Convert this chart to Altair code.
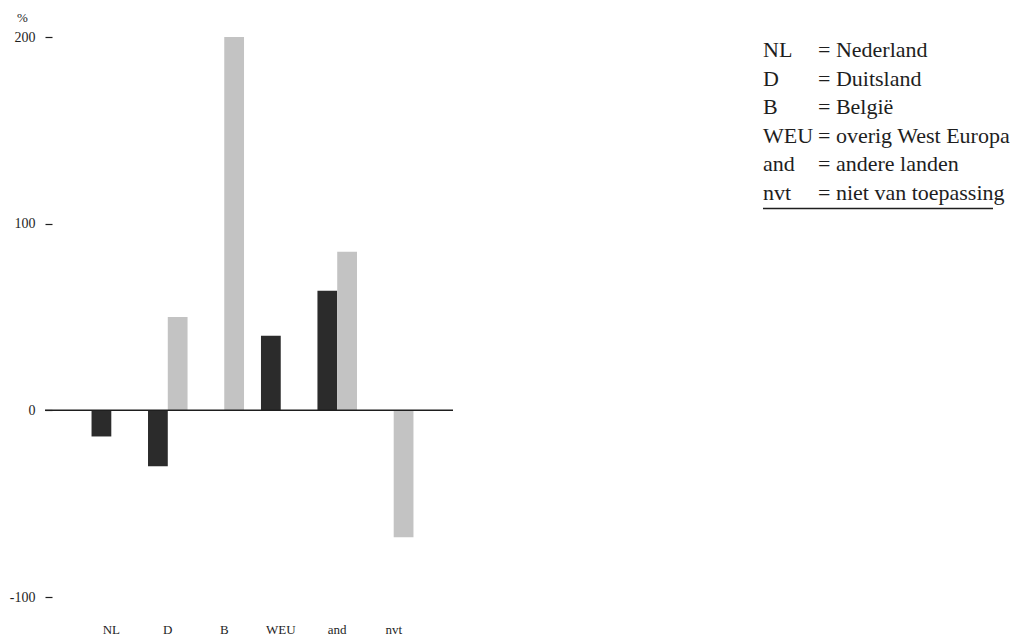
import altair as alt
import pandas as pd

categories = ["NL", "D", "B", "WEU", "and", "nvt"]
series_dark = [-14, -30, 0, 40, 64, 0]
series_light = [0, 50, 200, 0, 85, -68]
y_ticks = [-100, 0, 100, 200]
legend_abbr = ["NL", "D", "B", "WEU", "and", "nvt"]
legend_text = ["= Nederland", "= Duitsland", "= België",
               "= overig West Europa", "= andere landen", "= niet van toepassing"]

rows = []
for c, a, b in zip(categories, series_dark, series_light):
    rows.append({"cat": c, "serie": "1", "val": a})
    rows.append({"cat": c, "serie": "2", "val": b})
df = pd.DataFrame(rows)

W, H = 401, 560
FONT = "Liberation Serif"
INK = "#1e1e1e"

bars = alt.Chart(df).mark_bar().encode(
    x=alt.X("cat:N", sort=categories,
            scale=alt.Scale(paddingInner=0.3, paddingOuter=0.7),
            axis=alt.Axis(title=None, labelAngle=0, domain=False, ticks=False,
                          labelPadding=26, labelFont=FONT, labelFontSize=13,
                          labelColor=INK)),
    xOffset=alt.XOffset("serie:N", sort=["1", "2"],
                        scale=alt.Scale(paddingInner=0, paddingOuter=0)),
    y=alt.Y("val:Q", scale=alt.Scale(domain=[-100, 200], nice=False),
            axis=alt.Axis(values=y_ticks, labelExpr="'' + datum.value",
                          grid=False, domain=False,
                          tickSize=7, tickColor=INK, tickWidth=1.2,
                          labelPadding=10, labelFont=FONT, labelFontSize=14,
                          labelColor=INK,
                          title="%", titleAngle=0, titleX=-30, titleY=-20,
                          titleBaseline="middle",
                          titleFont=FONT, titleFontSize=13, titleFontWeight="normal",
                          titleColor=INK, titleAlign="center")),
    color=alt.Color("serie:N", scale=alt.Scale(domain=["1", "2"],
                                              range=["#2b2b2b", "#c3c3c3"]),
                    legend=None),
)

zero = alt.Chart(pd.DataFrame({"z": [0]})).mark_rule(color=INK, strokeWidth=1.5).encode(
    y="z:Q", x=alt.value(-7), x2=alt.value(W)
)

layers = [bars, zero]
y0, step = 13, 28.5
for i, (a, t) in enumerate(zip(legend_abbr, legend_text)):
    d = pd.DataFrame({"a": [a], "t": [t]})
    layers.append(alt.Chart(d).mark_text(align="left", baseline="middle", font=FONT,
                                         fontSize=22, color=INK).encode(
        text="a:N", x=alt.value(711), y=alt.value(y0 + i * step)))
    layers.append(alt.Chart(d).mark_text(align="left", baseline="middle", font=FONT,
                                         fontSize=22, color=INK).encode(
        text="t:N", x=alt.value(766), y=alt.value(y0 + i * step)))

underline = alt.Chart(pd.DataFrame({"u": [0]})).mark_rule(color=INK, strokeWidth=1.5).encode(
    x=alt.value(711), x2=alt.value(941), y=alt.value(y0 + 5 * step + 16)
)
layers.append(underline)

chart = alt.layer(*layers).properties(
    width=W, height=H,
    autosize=alt.AutoSizeParams(type="none"),
    padding={"left": 44, "top": 29, "right": 566, "bottom": 42},
).configure_view(stroke=None)

chart.save("out.html", embed_options={"renderer": "svg", "actions": False})
